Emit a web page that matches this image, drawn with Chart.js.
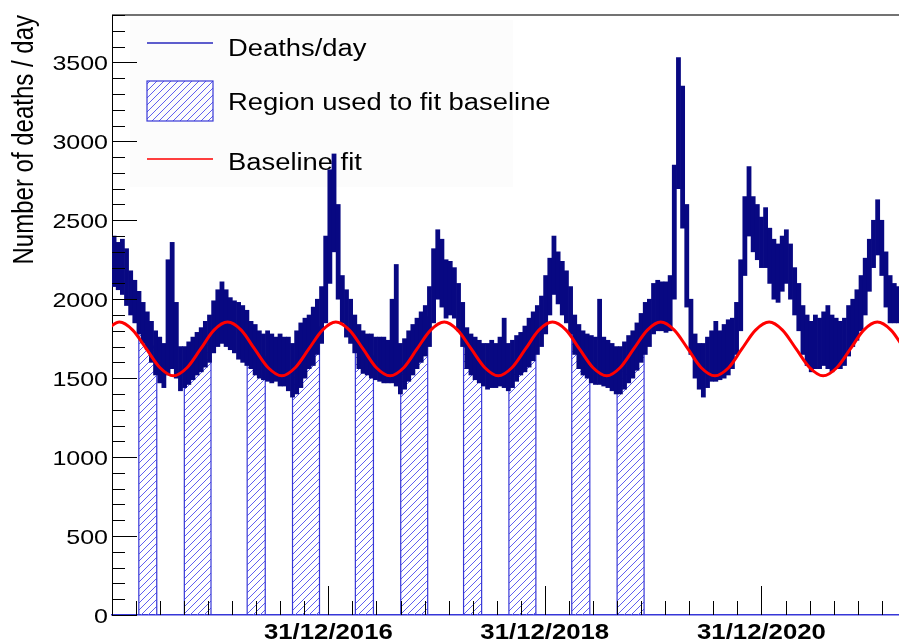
<!DOCTYPE html>
<html><head><meta charset="utf-8">
<script src="https://cdn.jsdelivr.net/npm/chart.js@4.4.1/dist/chart.umd.min.js"></script>
<style>html,body{margin:0;padding:0;background:#fff;overflow:hidden}</style>
</head><body><canvas id="c" width="899" height="641"></canvas>
<script>
// ---- data ----
const binStartDate = '2015-01-01';   // first 14-day bin starts here
const binDays = 14;                  // each bin = two weeks
const deathsLow = [
 2080,2060,2030,1960,1900,1850,1780,1720,1680,1600,
 1520,1470,1440,1520,1560,1500,1420,1440,1460,1490,
 1520,1540,1570,1600,1660,1700,1720,1700,1680,1660,
 1620,1600,1580,1560,1520,1500,1490,1480,1470,1480,
 1450,1450,1420,1380,1400,1440,1500,1560,1580,1650,
 1720,1850,2100,2300,2000,1850,1760,1720,1660,1560,
 1530,1520,1500,1490,1480,1470,1470,1470,1450,1400,
 1430,1480,1520,1560,1600,1640,1700,1850,2000,1950,
 1880,1900,1880,1800,1700,1560,1520,1490,1470,1450,
 1430,1440,1440,1450,1440,1420,1440,1480,1520,1540,
 1570,1610,1650,1700,1780,1900,2030,1970,1900,1850,
 1780,1650,1560,1520,1500,1470,1460,1460,1450,1440,
 1420,1400,1400,1430,1470,1500,1550,1600,1650,1700,
 1780,1800,1800,1790,1800,2000,2700,2450,1950,1650,
 1500,1430,1380,1440,1480,1480,1490,1500,1520,1560,
 1650,1800,2150,2400,2300,2250,2200,2200,2100,2000,
 1980,2050,2100,2000,1900,1800,1650,1580,1540,1560,
 1560,1580,1560,1540,1560,1560,1580,1640,1700,1740,
 1800,1900,2050,2200,2280,2150,1950,1850,1850,1850];
const deathsHigh = [
 2400,2360,2380,2320,2180,2120,2050,1980,1920,1860,
 1800,1760,1720,2250,2360,1980,1700,1700,1730,1760,
 1790,1820,1860,1900,1990,2060,2110,2060,2010,1990,
 1980,1960,1930,1860,1840,1800,1780,1800,1780,1760,
 1780,1760,1760,1720,1800,1850,1880,1900,1950,2000,
 2080,2400,2820,2920,2600,2150,2060,2000,1900,1840,
 1800,1780,1780,1760,1760,1760,1740,2000,2220,1720,
 1750,1800,1840,1880,1920,1960,2080,2320,2440,2380,
 2250,2240,2200,2100,1980,1820,1780,1760,1740,1720,
 1720,1740,1720,1760,1880,1720,1740,1770,1790,1830,
 1880,1920,1960,2020,2150,2260,2400,2300,2240,2180,
 2080,1900,1840,1800,1780,1770,1760,2000,1760,1740,
 1720,1700,1700,1730,1770,1800,1850,1910,1980,2000,
 2100,2120,2110,2110,2150,2850,3530,3350,2600,2000,
 1780,1720,1720,1760,1800,1860,1800,1840,1870,1880,
 1980,2250,2650,2840,2650,2600,2520,2580,2450,2380,
 2350,2400,2440,2350,2200,2100,1960,1900,1860,1900,
 1880,1920,1960,1900,1880,1860,1880,1960,2000,2060,
 2150,2260,2380,2500,2630,2500,2300,2150,2100,2080];
const fitRegions = [
 ['2015-04-01','2015-06-01'],['2015-09-01','2015-12-01'],
 ['2016-04-01','2016-06-01'],['2016-09-01','2016-12-01'],
 ['2017-04-01','2017-06-01'],['2017-09-01','2017-12-01'],
 ['2018-04-01','2018-06-01'],['2018-09-01','2018-12-01'],
 ['2019-04-01','2019-06-01'],['2019-09-01','2019-12-01']];
// baseline fit curve, read as day (since 2015-01-01) / value pairs
const baselineDays = [-21,25,70,116,162,207,253,299,344,390,436,481,527,573,618,664,710,755,801,847,
 892,938,984,1029,1075,1121,1166,1212,1258,1303,1349,1395,1440,1486,1532,1577,1623,1669,1714,1760,
 1806,1851,1897,1943,1988,2034,2080,2125,2171,2217,2262,2308,2354,2399,2445,2491,2536,2582,2628,2673];
const baselineValues = [1804,1855,1804,1685,1566,1515,1566,1685,1804,1855,1804,1685,1566,1515,1566,1685,1804,
 1855,1804,1685,1566,1515,1566,1685,1804,1855,1804,1685,1566,1515,1566,1685,1804,1855,1804,1685,1566,1515,
 1566,1685,1804,1855,1804,1685,1566,1515,1566,1685,1804,1855,1804,1685,1566,1515,1566,1685,1804,1855,1804,1685];
const xMajorDates = ['2014-12-31','2016-12-31','2018-12-31','2020-12-31'];
const xTickLabels = ['','31/12/2016','31/12/2018','31/12/2020'];
const xEndDate = '2022-04-09';
const yTickLabels = ['0','500','1000','1500','2000','2500','3000','3500'];
const yMax = 3800;
const legendLabels = ['Deaths/day','Region used to fit baseline','Baseline fit'];
const yTitle = 'Number of deaths / day';

// ---- helpers ----
const day = s => (Date.UTC(+s.slice(0,4), +s.slice(5,7)-1, +s.slice(8,10)) - Date.UTC(2015,0,1)) / 86400000;
const startDay = day(binStartDate);
const binCenter = i => startDay + binDays*i + binDays/2;
const mid = i => (deathsLow[i] + deathsHigh[i]) / 2;
const binOf = d => Math.max(0, Math.min(deathsLow.length-1, Math.floor((d - startDay)/binDays)));

const NAVY = 'rgb(8,8,130)';
const HBLUE = 'rgb(55,55,215)';
const STRETCH = 1.19;

// hatch pattern ("/" lines), built pixel by pixel
const T = 7;
const pc = document.createElement('canvas'); pc.width = T; pc.height = T;
const pctx = pc.getContext('2d');
pctx.fillStyle = 'rgb(95,95,240)';
for (let i = 0; i < T; i++) pctx.fillRect(i, T-1-i, 1, 1);
const ctx = document.getElementById('c').getContext('2d');
const hatch = ctx.createPattern(pc, 'repeat');

const datasets = [];
fitRegions.forEach(([s,e]) => {
  const ds = day(s), de = day(e);
  const pts = [{x:ds,y:0},{x:ds,y:mid(binOf(ds))}];
  deathsLow.forEach((_,i) => { const c = binCenter(i); if (c > ds && c < de) pts.push({x:c,y:mid(i)}); });
  pts.push({x:de,y:mid(binOf(de-1))},{x:de,y:0});
  datasets.push({type:'line', data:pts, borderColor:HBLUE, borderWidth:1.2, backgroundColor:hatch,
    fill:'origin', pointRadius:0, tension:0, order:3});
});
datasets.push({type:'bar', label:legendLabels[0],
  data: deathsLow.map((lo,i) => ({x:binCenter(i), y:[lo, deathsHigh[i]]})),
  backgroundColor:NAVY, borderWidth:0, barPercentage:1, categoryPercentage:1, order:2});
datasets.push({type:'line', label:legendLabels[2],
  data: baselineDays.map((d,i) => ({x:d, y:baselineValues[i]})),
  borderColor:'rgb(255,0,0)', borderWidth:3, pointRadius:0, fill:false, cubicInterpolationMode:'monotone', order:1});

function sText(c, txt, x, y, align, font, sx) {
  c.save(); c.translate(x, y); c.scale(sx || STRETCH, 1);
  c.font = font; c.textAlign = align; c.textBaseline = 'alphabetic'; c.fillStyle = '#000';
  c.fillText(txt, 0, 0); c.restore();
}

const decor = {
  id:'decor',
  beforeDatasetsDraw(chart) {
    const c = chart.ctx;
    // legend
    c.save();
    c.fillStyle = '#fcfcfc'; c.fillRect(130, 20, 383, 167);
    c.strokeStyle = 'rgb(40,40,190)'; c.lineWidth = 1.5;
    c.beginPath(); c.moveTo(147,43); c.lineTo(213,43); c.stroke();
    c.fillStyle = hatch; c.fillRect(147,81,66,40);
    c.strokeStyle = HBLUE; c.lineWidth = 1.2; c.strokeRect(147,81,66,40);
    c.strokeStyle = 'rgb(255,0,0)'; c.lineWidth = 1.5;
    c.beginPath(); c.moveTo(147,159); c.lineTo(213,159); c.stroke();
    c.restore();
    const f = '23px "Liberation Sans", Arial, sans-serif';
    sText(c, legendLabels[0], 228, 56, 'left', f);
    sText(c, legendLabels[1], 228, 110, 'left', f);
    sText(c, legendLabels[2], 228, 170, 'left', f);
  },
  afterDatasetsDraw(chart) {
    const c = chart.ctx, a = chart.chartArea, xs = chart.scales.x, ys = chart.scales.y;
    c.save();
    // top frame
    c.strokeStyle = '#444'; c.lineWidth = 1.5;
    c.beginPath(); c.moveTo(a.left, a.top); c.lineTo(a.right, a.top); c.stroke();
    // y ticks
    c.strokeStyle = '#000'; c.lineWidth = 1;
    for (let v = 0; v <= yMax; v += 100) {
      const y = Math.round(ys.getPixelForValue(v)) + 0.5;
      const len = v % 500 === 0 ? 25 : 13;
      c.beginPath(); c.moveTo(a.left, y); c.lineTo(a.left + len, y); c.stroke();
    }
    // x ticks
    const majors = xMajorDates.map(day);
    const xmax = day(xEndDate);
    const step = (majors[majors.length-1] - majors[majors.length-2]) / 9;
    majors.forEach((m, k) => {
      const stp = k < majors.length-1 ? (majors[k+1]-m)/9 : step;
      for (let j = 0; j < 9; j++) {
        const d = m + j*stp; if (d > xmax) break;
        const x = Math.round(xs.getPixelForValue(d)) + 0.5;
        const len = j === 0 ? 29 : 14;
        c.beginPath(); c.moveTo(x, a.bottom); c.lineTo(x, a.bottom - len); c.stroke();
      }
    });
    c.restore();
    // y labels
    const fy = '21px "Liberation Sans", Arial, sans-serif';
    yTickLabels.forEach(t => sText(c, t, 108, ys.getPixelForValue(+t) + 7.5, 'right', fy));
    // x labels
    const fx = 'bold 22px "Liberation Sans", Arial, sans-serif';
    xTickLabels.forEach((t, k) => { if (t) sText(c, t, xs.getPixelForValue(majors[k]), 639, 'center', fx, 1.17); });
    // y title
    c.save(); c.translate(33, a.top); c.rotate(-Math.PI/2); c.scale(1, STRETCH);
    c.font = '24px "Liberation Sans", Arial, sans-serif'; c.textAlign = 'right'; c.textBaseline = 'alphabetic'; c.fillStyle = '#000';
    c.fillText(yTitle, 0, 0); c.restore();
  }
};

new Chart(ctx, {
  type:'bar',
  data:{datasets},
  options:{
    responsive:false, animation:false, devicePixelRatio:1,
    layout:{padding:{top:15, right:0, left:0, bottom:0}},
    plugins:{legend:{display:false}, tooltip:{enabled:false}},
    scales:{
      x:{type:'linear', min:0, max:day(xEndDate), offset:false,
         grid:{display:false, drawTicks:false}, ticks:{display:false},
         border:{display:true, color:HBLUE, width:1.5},
         afterFit:s => { s.height = 26; }},
      y:{type:'linear', min:0, max:yMax,
         grid:{display:false, drawTicks:false}, ticks:{display:false, stepSize:500},
         border:{display:true, color:'#000', width:1},
         afterFit:s => { s.width = 112; }}
    }
  },
  plugins:[decor]
});
</script></body></html>
